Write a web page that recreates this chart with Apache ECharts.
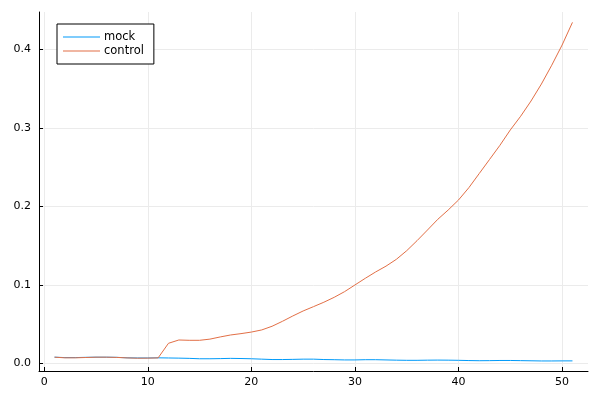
<!DOCTYPE html>
<html><head><meta charset="utf-8">
<script src="https://cdn.jsdelivr.net/npm/echarts@6/dist/echarts.min.js"></script>
<style>html,body{margin:0;padding:0;background:#fff}#c{width:600px;height:400px}</style>
</head><body><div id="c"></div>
<script>
const xs = Array.from({length: 51}, (_, i) => i + 1);
const mock = [0.008,0.0075,0.0075,0.0078,0.008,0.008,0.0078,0.0072,0.007,0.007,0.0072,0.007,0.0068,0.0065,0.006,0.006,0.0062,0.0065,0.0063,0.006,0.0055,0.005,0.005,0.0052,0.0055,0.0055,0.005,0.0048,0.0045,0.0045,0.0048,0.0048,0.0045,0.0042,0.004,0.004,0.0042,0.0043,0.0042,0.004,0.0037,0.0035,0.0036,0.0038,0.0038,0.0036,0.0034,0.0032,0.0032,0.0033,0.0033];
const control = [0.008,0.0072,0.0072,0.0076,0.008,0.008,0.0077,0.0071,0.0067,0.0068,0.0071,0.0257,0.0299,0.0295,0.0295,0.031,0.0338,0.0363,0.038,0.040,0.0427,0.0474,0.0537,0.0605,0.0669,0.0724,0.078,0.0843,0.0915,0.100,0.1085,0.1166,0.124,0.1327,0.1437,0.1565,0.170,0.1837,0.1955,0.2083,0.224,0.242,0.260,0.278,0.2975,0.315,0.3344,0.356,0.380,0.4057,0.4346];
const xTicks = [0,10,20,30,40,50];
const yTicks = [0,0.1,0.2,0.3,0.4];
const names = ['mock','control'];

const chart = echarts.init(document.getElementById('c'), null, {renderer:'canvas'});
const font = 'DejaVu Sans';
chart.setOption({
  animation:false,
  backgroundColor:'#fff',
  grid:{left:39,right:12,top:12,bottom:29,containLabel:false},
  legend:{
    left:57, top:24, orient:'vertical',
    data:names,
    icon:'rect', itemWidth:37, itemHeight:1, itemGap:2,
    borderColor:'#000', borderWidth:1, borderRadius:0,
    padding:[7,10,7,6],
    textStyle:{fontFamily:font,fontSize:11.5,color:'#000',padding:[0,0,0,-1]},
    backgroundColor:'#fff'
  },
  xAxis:{
    type:'value', min:-0.5, max:52.5,
    axisLine:{show:true,onZero:false,lineStyle:{color:'#000',width:1}},
    axisTick:{show:true,inside:true,length:4,customValues:xTicks,lineStyle:{color:'#000'}},
    axisLabel:{customValues:xTicks,fontFamily:font,fontSize:11,color:'#000',margin:6},
    splitLine:{show:true,lineStyle:{color:'#ebebeb',width:1}}
  },
  yAxis:{
    type:'value', min:-0.0096, max:0.4478,
    axisLine:{show:true,onZero:false,lineStyle:{color:'#000',width:1}},
    axisTick:{show:true,inside:true,length:4,customValues:yTicks,lineStyle:{color:'#000'}},
    axisLabel:{customValues:yTicks,fontFamily:font,fontSize:11,color:'#000',margin:8,
      formatter:v=>v.toFixed(1)},
    splitLine:{show:true,lineStyle:{color:'#ebebeb',width:1}}
  },
  series:[
    {name:names[0],type:'line',data:xs.map((x,i)=>[x,mock[i]]),symbol:'none',
      lineStyle:{color:'#009af9',width:1},itemStyle:{color:'#009af9'}},
    {name:names[1],type:'line',data:xs.map((x,i)=>[x,control[i]]),symbol:'none',
      lineStyle:{color:'#e26f46',width:1},itemStyle:{color:'#e26f46'}}
  ]
});
</script></body></html>
